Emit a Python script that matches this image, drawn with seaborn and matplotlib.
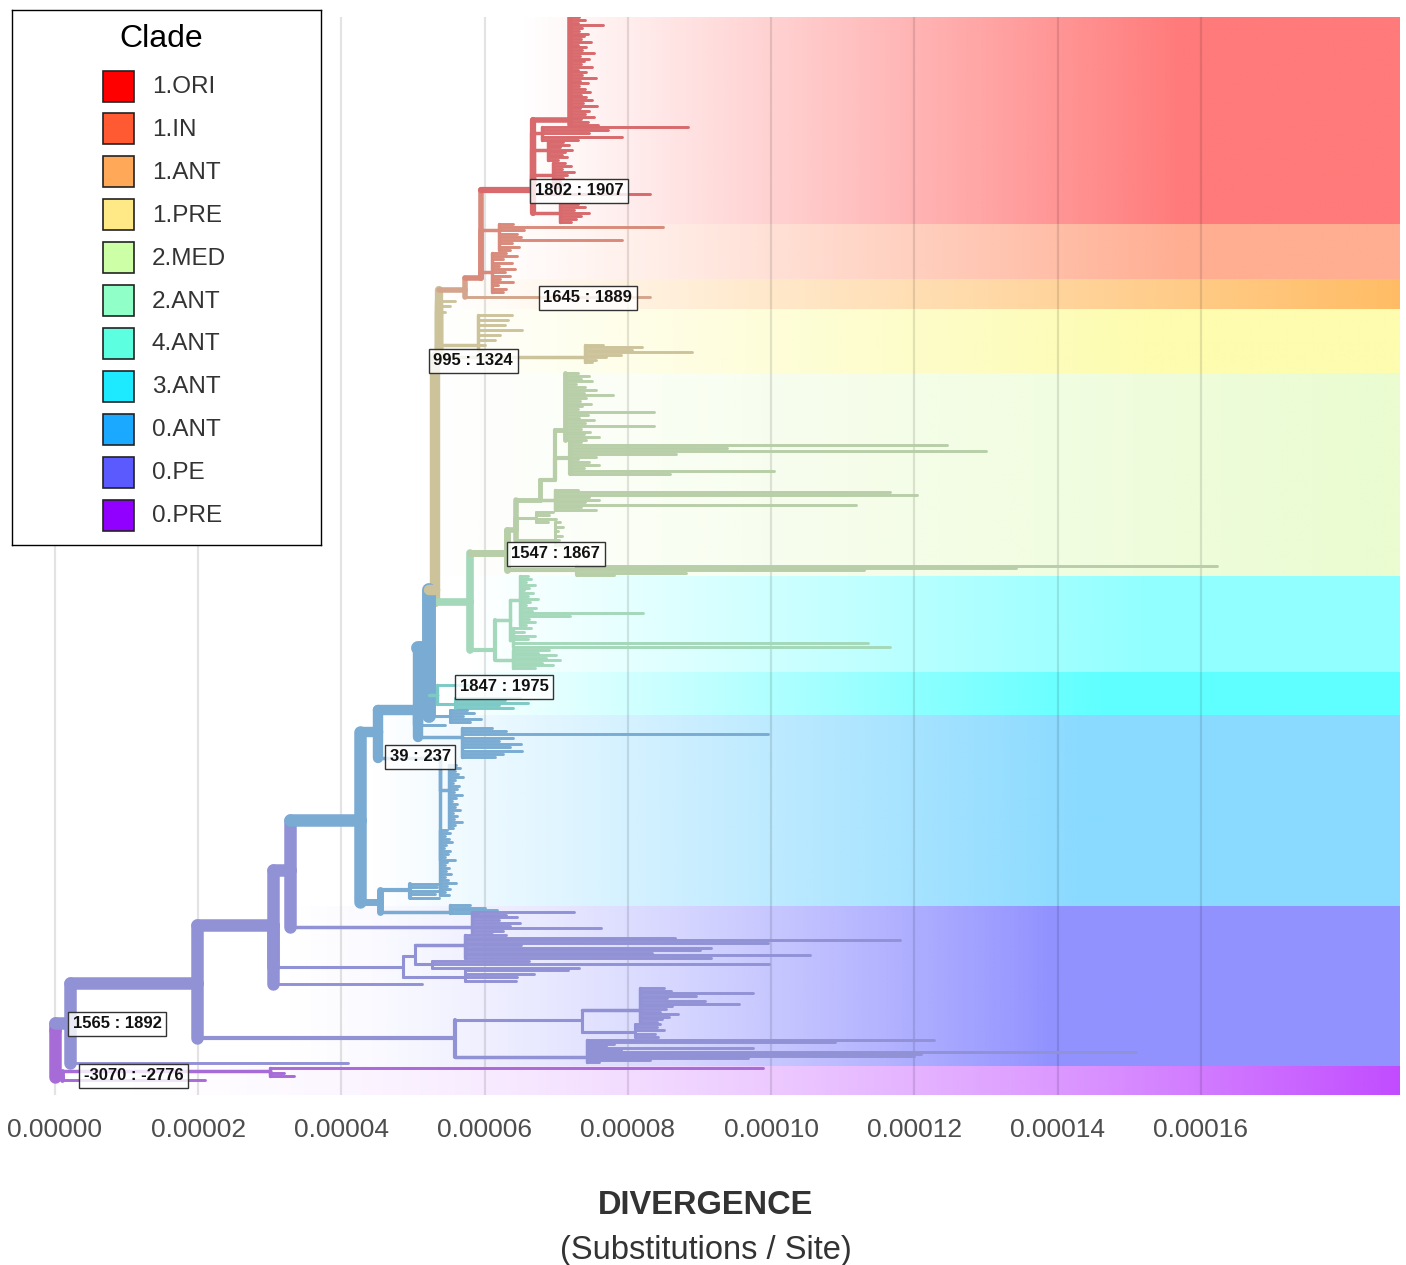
import matplotlib
matplotlib.use("Agg")
import numpy as np
import pandas as pd
import matplotlib.pyplot as plt
import seaborn as sns
from matplotlib.collections import LineCollection
from matplotlib.patches import Rectangle

# ------------------------------------------------------------------ data
S = 1e-5  # divergence values below are given in units of 1e-5 subst./site

CLADES = ['1.ORI', '1.IN', '1.ANT', '1.PRE', '2.MED', '2.ANT', '4.ANT', '3.ANT', '0.ANT', '0.PE', '0.PRE']
LEGEND_COLORS = ['#FF0000', '#FF5A32', '#FFA858', '#FFE986', '#CCFFA6', '#91FFC8',
                 '#5CFFE0', '#1EEAFF', '#1BA8FF', '#5A5AFF', '#9100FF']
BRANCH_COLORS = ['#D8696C', '#D98A7A', '#D4A58C', '#CDC39B', '#B7CEA8', '#A4D8BA',
                 '#7CC9C6', '#76BCD4', '#7AABD2', '#9191D6', '#A66BD6']

# internal nodes of the tree (divergence, vertical tip-rank position)
NODE_NAME = ['root', 'A', 'P', 'Q', 'B', 'C', 'D', 'E', 'F', 'G', 'H', 'J', 'K', 'L1', 'M', 'ORI',
             'N2', 'MED', 'MEDa', 'MEDb', 'MEDd', 'ANT2', 'A2u', 'N4', 'E2', 'C2', 'C2a', 'B2', 'B2a', 'F2']
NODE_PARENT = [None, 'root', 'root', 'P', 'A', 'B', 'C', 'D', 'E', 'F', 'G', 'H', 'J', 'K', 'L1', 'M',
               'J', 'N2', 'MED', 'MEDa', 'MEDb', 'N2', 'ANT2', 'H', 'E', 'C', 'C2', 'B', 'B2', 'F']
NODE_DIV = [0.00, 0.21, 0.10, 3.00, 1.98, 3.04, 3.28, 4.26, 4.51, 5.07, 5.22, 5.30, 5.36, 5.72, 5.95, 6.67,
            5.79, 6.31, 6.44, 6.77, 6.98, 6.14, 6.35, 5.33, 4.54, 4.86, 5.03, 5.58, 7.36, 5.38]
NODE_POS = [1030, 1023, 1077, 1071, 983, 925, 870, 820, 732, 710, 648, 590, 357, 290, 278, 190,
            602, 553, 530, 500, 480, 650, 620, 695, 902, 967, 956, 1038, 1020, 758]
NODE_CLADE = ['0.PRE', '0.PE', '0.PRE', '0.PRE', '0.PE', '0.PE', '0.PE', '0.ANT', '0.ANT', '0.ANT',
              '0.ANT', '1.PRE', '1.PRE', '1.ANT', '1.IN', '1.ORI', '2.ANT', '2.MED', '2.MED', '2.MED',
              '2.MED', '2.ANT', '2.ANT', '4.ANT', '0.ANT', '0.PE', '0.PE', '0.PE', '0.PE', '0.ANT']

# single tips hanging from internal nodes
TIP_PARENT = ['P', 'Q', 'Q', 'Q', 'A', 'C', 'K', 'K', 'K', 'L1', 'ORI', 'G', 'N4']
TIP_DIV = [2.09, 9.88, 3.20, 3.34, 4.09, 5.12, 5.58, 5.51, 5.45, 8.31, 8.31, 5.45, 5.79]
TIP_POS = [1080, 1068, 1073, 1076, 1063, 984, 301, 306, 312, 297, 194, 725, 685]
TIP_CLADE = ['0.PRE', '0.PRE', '0.PRE', '0.PRE', '0.PE', '0.PE', '1.PRE', '1.PRE', '1.PRE',
             '1.ANT', '1.ORI', '0.ANT', '4.ANT']

# tip divergences of the dense sub-clades
TIPS_ORI_A = [7.32, 7.40, 7.30, 7.65, 7.36, 7.31, 7.44, 7.38, 7.34, 7.48, 7.30, 7.42, 7.36, 7.52, 7.33,
              7.45, 7.38, 7.35, 7.50, 7.30, 7.41, 7.36, 7.55, 7.33, 7.44, 7.32, 7.40, 7.47, 7.35, 7.42,
              7.50, 7.37, 7.57, 7.33, 7.46, 7.40, 7.53, 7.35, 7.44, 7.58]
TIPS_ORI_B = [8.84, 7.72, 7.45, 7.92, 7.30]
TIPS_ORI_C = [7.10, 7.18, 7.05, 7.22, 7.12, 7.08, 7.15, 7.02]
TIPS_ORI_D = [7.12, 7.20, 7.08, 7.25, 7.15, 7.10, 7.05, 7.18, 7.02]
TIPS_ORI_E = [7.30, 7.40, 7.25, 7.45, 7.35, 7.28, 7.20]
TIPS_IN_A = [6.40, 8.49, 6.55, 6.45, 6.50, 7.92, 6.38, 6.48, 6.35]
TIPS_IN_B = [6.30, 6.45, 6.25, 6.38, 6.20, 6.42, 6.28, 6.35, 6.22, 6.40, 6.18, 6.30, 6.25]
TIPS_PRE_A = [6.38, 6.32, 6.28, 6.52, 6.21, 6.14, 6.00, 5.98]
TIPS_PRE_B = [7.65, 8.20, 8.05, 8.89, 7.90, 7.70, 7.55, 7.50]
TIPS_MED_LOW = [16.22, 13.42, 11.30, 8.81, 7.80]
TIPS_MED_S = [7.05, 7.10, 7.02, 7.08, 7.04, 7.12]
TIPS_MED_C = [6.95, 6.90, 7.00, 6.88]
TIPS_MED_E = [7.30, 11.66, 12.03, 7.45, 7.60, 7.40, 11.18, 7.35, 7.55]
TIPS_MED_F = [7.30, 7.45, 7.35, 7.50, 7.28, 7.40, 7.55, 7.38, 7.79, 7.42, 7.33, 7.48, 7.36, 7.30,
              8.36, 7.44, 7.32, 7.52, 7.40, 8.36, 7.35, 7.47, 7.38, 7.60, 7.42]
TIPS_MED_G = [7.35, 12.45, 9.38, 13.00, 8.67, 7.55, 7.30, 7.45, 7.60, 7.38, 10.04, 8.59]
TIPS_A2_A = [6.60, 6.65, 6.58, 6.70, 6.62, 6.55, 6.68, 6.60, 6.75, 6.63, 6.58, 6.72, 6.66, 8.21,
             7.19, 6.62, 6.70, 6.58]
TIPS_A2_B = [6.65, 6.55, 6.70, 6.60, 11.35, 11.66]
TIPS_A2_C = [6.90, 6.75, 7.00, 6.85, 7.05, 6.80, 6.95, 6.70]
TIPS_N4_B = [6.49, 6.28, 6.60, 6.20, 6.40]
TIPS_H_C = [5.75, 5.85, 5.70, 5.95, 5.80]
TIPS_G2 = [6.10, 6.30, 9.95, 6.40, 6.20, 6.50, 6.35, 6.52, 6.25, 6.15]
TIPS_F2_A = [5.60, 5.66, 5.58, 5.63, 5.70, 5.59, 5.56, 5.64, 5.61, 5.57, 5.68, 5.60, 5.55, 5.62,
             5.58, 5.65, 5.56, 5.61, 5.57, 5.69, 5.59, 5.56]
TIPS_F2_B = [5.48, 5.52, 5.45, 5.50, 5.55, 5.46, 5.43, 5.51, 5.49, 5.45, 5.58, 5.47, 5.44, 5.50,
             5.46, 5.53, 5.44, 5.49, 5.60, 5.47, 5.52, 5.45, 5.50]
TIPS_E2_A = [5.38, 5.33, 5.40, 5.30, 5.36]
TIPS_E2_B = [5.80, 6.00, 6.17, 5.90]
TIPS_D2 = [7.24, 6.30, 6.45, 6.20, 6.49, 6.35, 7.63, 6.25, 6.10]
TIPS_C2_C = [6.30, 8.66, 11.80, 9.95, 6.50, 9.16, 9.01, 8.34, 10.54, 9.16]
TIPS_C2_D = [6.62, 9.97, 7.32]
TIPS_C2_B = [7.17, 6.69, 6.45, 6.44]
TIPS_B2_C = [8.50, 8.60, 9.75, 8.95, 8.55, 9.07, 9.55, 8.62, 8.53, 8.45, 8.70, 8.57, 8.48, 8.40]
TIPS_B2_D = [8.45, 8.40, 8.50, 8.38, 8.42]
TIPS_B2_B = [12.27, 10.89, 7.80, 7.70, 9.75, 7.90, 15.09, 12.09, 11.99, 9.68, 8.31, 7.60]

CLUSTER_PARENT = ['ORI', 'ORI', 'ORI', 'ORI', 'ORI', 'M', 'M', 'K', 'K', 'MED', 'MEDa', 'MEDa', 'MEDb',
                  'MEDd', 'MEDd', 'A2u', 'A2u', 'ANT2', 'N4', 'H', 'G', 'F2', 'F2', 'E2', 'E2', 'D',
                  'C2a', 'C2a', 'C2', 'B2a', 'B2a', 'B2']
CLUSTER_DIV = [7.19, 6.80, 6.88, 6.95, 7.05, 6.20, 6.10, 5.91, 7.40, 7.29, 6.98, 6.72, 6.98, 7.12, 7.19,
               6.49, 6.40, 6.40, 5.58, 5.51, 5.68, 5.50, 5.38, 4.96, 5.51, 5.82, 5.72, 5.26, 5.72, 8.17,
               8.10, 7.43]
CLUSTER_POS = [120, 133, 150, 175, 213, 230, 272, 345, 357, 570, 540, 518, 500, 430, 458, 600, 640, 660,
               704, 716, 737, 790, 860, 890, 912, 927, 945, 964, 977, 1010, 1032, 1057]
CLUSTER_FIRST = [17, 127, 142, 163, 204, 224, 253, 315, 345, 566, 522, 512, 490, 373, 442, 576, 628, 650,
                 698, 710, 728, 765, 830, 884, 905, 912, 935, 961, 970, 988, 1024, 1040]
CLUSTER_LAST = [125, 140, 160, 187, 222, 250, 292, 350, 362, 575, 545, 522, 510, 440, 474, 625, 647, 668,
                708, 722, 757, 828, 895, 898, 913, 934, 958, 968, 981, 1022, 1037, 1062]
CLUSTER_CLADE = (['1.ORI'] * 5 + ['1.IN'] * 2 + ['1.PRE'] * 2 + ['2.MED'] * 6 + ['2.ANT'] * 3 +
                 ['4.ANT'] + ['0.ANT'] * 6 + ['0.PE'] * 7)
CLUSTER_TIPS = [TIPS_ORI_A, TIPS_ORI_B, TIPS_ORI_C, TIPS_ORI_D, TIPS_ORI_E, TIPS_IN_A, TIPS_IN_B,
                TIPS_PRE_A, TIPS_PRE_B, TIPS_MED_LOW, TIPS_MED_S, TIPS_MED_C, TIPS_MED_E, TIPS_MED_F,
                TIPS_MED_G, TIPS_A2_A, TIPS_A2_B, TIPS_A2_C, TIPS_N4_B, TIPS_H_C, TIPS_G2, TIPS_F2_A,
                TIPS_F2_B, TIPS_E2_A, TIPS_E2_B, TIPS_D2, TIPS_C2_C, TIPS_C2_D, TIPS_C2_B, TIPS_B2_C,
                TIPS_B2_D, TIPS_B2_B]

# node date labels
LABEL_TEXT = ['1802 : 1907', '1645 : 1889', '995 : 1324', '1547 : 1867', '1847 : 1975', '39 : 237',
              '1565 : 1892', '-3070 : -2776']
LABEL_DIV = [7.32, 7.44, 5.84, 6.99, 6.27, 5.10, 0.87, 1.10]
LABEL_POS = [191, 298, 361, 554, 687, 757, 1024, 1076]

# clade highlight bands
BAND_CLADE = ['1.ORI', '1.IN', '1.ANT', '1.PRE', '2.MED', '3.ANT', '4.ANT', '0.ANT', '0.PE', '0.PRE']
BAND_TOP = [17, 224, 279, 309, 373, 576, 672, 715, 906, 1066]
BAND_BOTTOM = [224, 279, 309, 373, 576, 672, 715, 906, 1066, 1095]
BAND_COLOR = ['#FF7A7A', '#FFAE92', '#FFBC64', '#FDFCAF', '#EAFCD0', '#91FFFF', '#60FFFF',
              '#8ADAFF', '#9292FF', '#C14BFF']

XTICKS = [0, 2, 4, 6, 8, 10, 12, 14, 16]

# ------------------------------------------------------------------ styles
NODE_WIDTH = [9, 9, 3.5, 2.5, 9, 9, 9, 9, 7.5, 7.5, 10, 7.5, 6, 4, 4, 4.5,
              5.5, 5, 4, 3.5, 3, 3, 2.5, 2.5, 5, 2.2, 2.2, 3, 2.2, 2.5]
CLUSTER_WIDTH = [4, 2.5, 2.5, 2.5, 2.5, 2.5, 2.5, 2.5, 2.5, 3, 2.2, 2.2, 2.5, 3.5, 3, 2.5, 2.5, 2.5,
                 2.2, 2.2, 2.5, 2.5, 2.5, 3, 2.5, 2.5, 2.5, 2.2, 2.2, 2.5, 2.2, 2.5]
TIP_WIDTH = 2.1
BAND_START = [6.49, 5.93, 5.45, 5.24, 5.24, 5.79, 5.38, 4.40, 3.00, 0.07]
BAND_FULL = [15.71, 15.71, 18.78, 15.29, 18.78, 15.29, 14.59, 14.31, 13.89, 18.78]
BAND_POWER = [1.1, 1.1, 1.0, 1.0, 1.0, 1.0, 1.0, 1.0, 1.5, 1.9]

# ------------------------------------------------------------------ figure
sns.set_theme(style="white")
plt.rcParams['font.family'] = ['Liberation Sans', 'DejaVu Sans']

W, H = 1406, 1265
fig = plt.figure(figsize=(W / 100, H / 100), dpi=100)
ax = fig.add_axes([12 / W, 1 - 1095 / H, (1400 - 12) / W, (1095 - 17) / H])
XMIN, XMAX = -0.60 * S, 18.78 * S
YLO, YHI = 1095, 17

bcol = dict(zip(CLADES, BRANCH_COLORS))

# bands with horizontal colour gradient
xs = np.linspace(XMIN, XMAX, 800)
for clade, top, bot, col, x0, x1, pw in zip(BAND_CLADE, BAND_TOP, BAND_BOTTOM, BAND_COLOR,
                                            BAND_START, BAND_FULL, BAND_POWER):
    t = np.clip((xs - x0 * S) / ((x1 - x0) * S), 0, 1) ** pw
    rgba = np.zeros((1, len(xs), 4))
    rgba[..., :3] = matplotlib.colors.to_rgb(col)
    rgba[..., 3] = t
    ax.imshow(rgba, extent=(XMIN, XMAX, bot, top), aspect='auto',
              interpolation='bilinear', zorder=1)

for t in XTICKS:
    ax.axvline(t * S, color='black', alpha=0.11, lw=1.6, zorder=2)

# tree segments
idx = {n: i for i, n in enumerate(NODE_NAME)}
tip_segs, tip_cols = [], []
mid_segs, mid_cols, mid_lws = [], [], []
bb_segs, bb_cols, bb_lws = [], [], []


def nxy(name):
    i = idx[name]
    return NODE_DIV[i] * S, NODE_POS[i], bcol[NODE_CLADE[i]], NODE_WIDTH[i]


# single tips
for par, d, y, c in zip(TIP_PARENT, TIP_DIV, TIP_POS, TIP_CLADE):
    px, py, pc, pw = nxy(par)
    mid_segs.append([(px, py), (px, y)]); mid_cols.append(pc); mid_lws.append(pw)
    tip_segs.append([(px, y), (d * S, y)]); tip_cols.append(bcol[c])

# clusters of tips
for par, d, y, y0, y1, c, tips, w in zip(CLUSTER_PARENT, CLUSTER_DIV, CLUSTER_POS, CLUSTER_FIRST,
                                         CLUSTER_LAST, CLUSTER_CLADE, CLUSTER_TIPS, CLUSTER_WIDTH):
    px, py, pc, pw = nxy(par)
    cx = d * S
    mid_segs.append([(px, py), (px, y)]); mid_cols.append(pc); mid_lws.append(pw)
    mid_segs.append([(px, y), (cx, y)]); mid_cols.append(bcol[c]); mid_lws.append(w)
    ty = np.linspace(y0, y1, len(tips))
    mid_segs.append([(cx, min(y0, y)), (cx, max(y1, y))]); mid_cols.append(bcol[c]); mid_lws.append(w)
    for yy, tx in zip(ty, tips):
        tip_segs.append([(cx, yy), (tx * S, yy)]); tip_cols.append(bcol[c])

# backbone (internal edges): vertical in parent style, horizontal in child style
for i in reversed(range(len(NODE_NAME))):
    par = NODE_PARENT[i]
    if par is None:
        continue
    px, py, pc, pw = nxy(par)
    cx, cy, cc, cw = nxy(NODE_NAME[i])
    bb_segs.append([(px, py), (px, cy)]); bb_cols.append(pc); bb_lws.append(pw)
    bb_segs.append([(px, cy), (cx, cy)]); bb_cols.append(cc); bb_lws.append(cw)

ax.add_collection(LineCollection(tip_segs, colors=tip_cols, linewidths=TIP_WIDTH,
                                 capstyle='round', zorder=3))
ax.add_collection(LineCollection(mid_segs, colors=mid_cols, linewidths=mid_lws,
                                 capstyle='round', zorder=3.5))
ax.add_collection(LineCollection(bb_segs, colors=bb_cols, linewidths=bb_lws,
                                 capstyle='round', zorder=4))

# node labels
for txt, d, y in zip(LABEL_TEXT, LABEL_DIV, LABEL_POS):
    ax.text(d * S, y, txt, ha='center', va='center', fontsize=12, fontweight='bold',
            color='#111111', zorder=6,
            bbox=dict(boxstyle='square,pad=0.27', fc=(1, 1, 1, 0.82), ec='#333333', lw=1.0))

ax.set_xlim(XMIN, XMAX)
ax.set_ylim(YLO, YHI)
ax.set_xticks([t * S for t in XTICKS])
ax.set_xticklabels([f"{t * S:.5f}" for t in XTICKS])
ax.set_yticks([])
ax.tick_params(axis='x', length=0, pad=16.5, labelsize=19, labelcolor='#4D4D4D')
sns.despine(ax=ax, left=True, bottom=True, top=True, right=True)
ax.set_facecolor('white')

fig.text(706 / W, 1 - 1206 / H, 'DIVERGENCE', ha='center', va='center', fontsize=23.5,
         fontweight='bold', color='#333333')
fig.text(706 / W, 1 - 1250 / H, '(Substitutions / Site)', ha='center', va='center',
         fontsize=23.5, color='#333333')

# legend
lx0, ly0, lx1, ly1 = 12, 10, 321, 545
lax = fig.add_axes([lx0 / W, 1 - ly1 / H, (lx1 - lx0) / W, (ly1 - ly0) / H], zorder=10)
lax.set_xlim(0, lx1 - lx0)
lax.set_ylim(ly1 - ly0, 0)
lax.set_xticks([]); lax.set_yticks([])
lax.set_facecolor('white')
for sp in lax.spines.values():
    sp.set_visible(True); sp.set_color('black'); sp.set_linewidth(1.0)
lax.text(149, 29, 'Clade', ha='center', va='center', fontsize=23, color='black')
for k, (lab, col) in enumerate(zip(CLADES, LEGEND_COLORS)):
    yc = 76 + k * 42.9
    lax.add_patch(Rectangle((91, yc - 15.5), 31, 31, fc=col, ec='#222222', lw=1.2))
    lax.text(140, yc + 1, lab, ha='left', va='center', fontsize=17.5, color='#333333')

fig.savefig('out.png', dpi=100)
